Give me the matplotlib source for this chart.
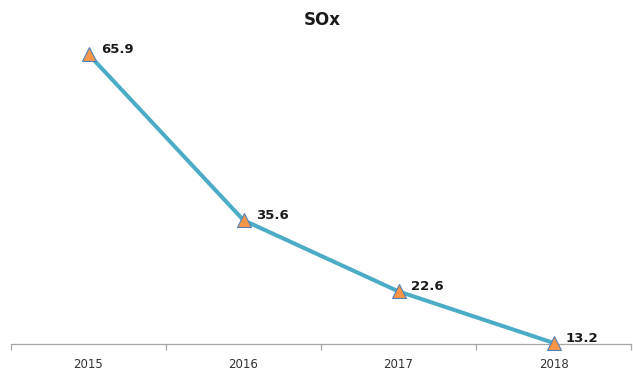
import matplotlib.pyplot as plt
import numpy as np

years = ["2015", "2016", "2017", "2018"]
sox = [65.9, 35.6, 22.6, 13.2]

LINE_COLOR = "#4BACC6"
MARKER_FACE = "#F79646"
MARKER_EDGE = "#4F81BD"
AXIS_GRAY = "#A6A6A6"


def main():
    fig = plt.figure(figsize=(6.33, 3.71), dpi=100)
    ax = fig.add_axes([11 / 633, 27 / 371, 620 / 633, 304 / 371])

    x = np.arange(len(years))
    ax.plot(x, sox, color=LINE_COLOR, linewidth=2.9, marker="^",
            markersize=9.5, markerfacecolor=MARKER_FACE,
            markeredgecolor=MARKER_EDGE, markeredgewidth=0.8, zorder=3,
            clip_on=False)

    for xi, v in zip(x, sox):
        ax.annotate(f"{v:.1f}", (xi, v), xytext=(9, 3.5), textcoords="offset points",
                    ha="left", va="center", fontsize=9.5, fontweight="semibold",
                    color="#1a1a1a")

    ax.set_xlim(-0.5, len(years) - 0.5)
    ax.set_ylim(13.0, 68.5)

    # category ticks sit between the years, labels centred under each year
    ax.set_xticks(np.arange(-0.5, len(years)), minor=False)
    ax.set_xticklabels([])
    ax.set_xticks(x, minor=True)
    ax.set_xticklabels(years, minor=True, fontsize=8.5, color="#333333")
    ax.tick_params(axis="x", which="major", length=4, color=AXIS_GRAY, width=0.9)
    ax.tick_params(axis="x", which="minor", length=0, pad=10)
    ax.set_yticks([])

    for side in ("top", "right", "left"):
        ax.spines[side].set_visible(False)
    ax.spines["bottom"].set_color(AXIS_GRAY)
    ax.spines["bottom"].set_linewidth(0.9)

    fig.text(322 / 633, 1 - 20 / 371, "SOx", ha="center", va="center",
             fontsize=12, fontweight="bold", color="#1a1a1a")

    fig.savefig("out.png", dpi=100)


if __name__ == "__main__":
    main()
